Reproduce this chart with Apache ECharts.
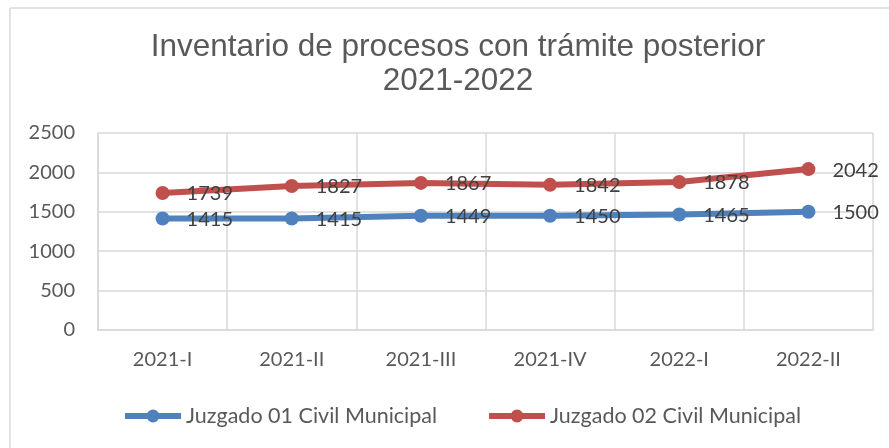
<!DOCTYPE html>
<html>
<head>
<meta charset="utf-8">
<script src="https://cdn.jsdelivr.net/npm/echarts@6/dist/echarts.min.js"></script>
<style>
html,body{margin:0;padding:0;background:#fff;}
#c{width:889px;height:448px;}
</style>
</head>
<body>
<div id="c"></div>
<script>
const categories = ['2021-I', '2021-II', '2021-III', '2021-IV', '2022-I', '2022-II'];
const juzgado01 = [1415, 1415, 1449, 1450, 1465, 1500];
const juzgado02 = [1739, 1827, 1867, 1842, 1878, 2042];
const seriesNames = ['Juzgado 01 Civil Municipal', 'Juzgado 02 Civil Municipal'];
const titleText = 'Inventario de procesos con trámite posterior\n2021-2022';

const chart = echarts.init(document.getElementById('c'), null, {renderer: 'canvas'});
const gridColor = '#D9D9D9';
const labelFont = 'Lato';

function lineSeries(name, data, color) {
  return {
    name: name,
    type: 'line',
    data: data,
    symbol: 'circle',
    symbolSize: 14,
    lineStyle: {width: 6, color: color},
    itemStyle: {color: color},
    label: {
      show: true,
      position: 'right',
      distance: 17,
      offset: [0, 1],
      color: '#404040',
      fontFamily: labelFont,
      fontSize: 20
    },
    emphasis: {disabled: true},
    animation: false
  };
}

chart.setOption({
  backgroundColor: '#fff',
  animation: false,
  title: {
    text: titleText,
    left: 453,
    top: 25,
    textAlign: 'center',
    textStyle: {
      fontFamily: 'Liberation Sans',
      fontSize: 31.5,
      fontWeight: 'normal',
      color: '#595959',
      lineHeight: 34
    }
  },
  graphic: [
    {type: 'line', shape: {x1: 10, y1: 8, x2: 10, y2: 448}, style: {stroke: gridColor, lineWidth: 1.5}, silent: true},
    {type: 'line', shape: {x1: 10, y1: 8, x2: 889, y2: 8}, style: {stroke: gridColor, lineWidth: 1.5}, silent: true}
  ],
  legend: {
    data: seriesNames,
    left: 122,
    top: 405,
    padding: 0,
    itemWidth: 56,
    itemHeight: 16,
    itemGap: 49,
    lineStyle: {width: 6},
    textStyle: {fontFamily: labelFont, fontSize: 21.5, color: '#595959'}
  },
  grid: {left: 98, right: 16, top: 133, bottom: 118, containLabel: false},
  xAxis: {
    type: 'category',
    data: categories,
    boundaryGap: true,
    axisLine: {show: true, lineStyle: {color: gridColor, width: 1.5}},
    axisTick: {show: false},
    splitLine: {show: true, lineStyle: {color: gridColor, width: 1.5}},
    axisLabel: {color: '#595959', fontFamily: labelFont, fontSize: 20, margin: 20}
  },
  yAxis: {
    type: 'value',
    min: 0,
    max: 2500,
    interval: 500,
    axisLine: {show: true, lineStyle: {color: gridColor, width: 1.5}},
    axisTick: {show: false},
    splitLine: {show: true, lineStyle: {color: gridColor, width: 1.5}},
    axisLabel: {color: '#595959', fontFamily: labelFont, fontSize: 20, margin: 23,
      formatter: function (v) { return String(v); }}
  },
  series: [
    lineSeries(seriesNames[0], juzgado01, '#4F81BD'),
    lineSeries(seriesNames[1], juzgado02, '#C0504D')
  ]
});
</script>
</body>
</html>
